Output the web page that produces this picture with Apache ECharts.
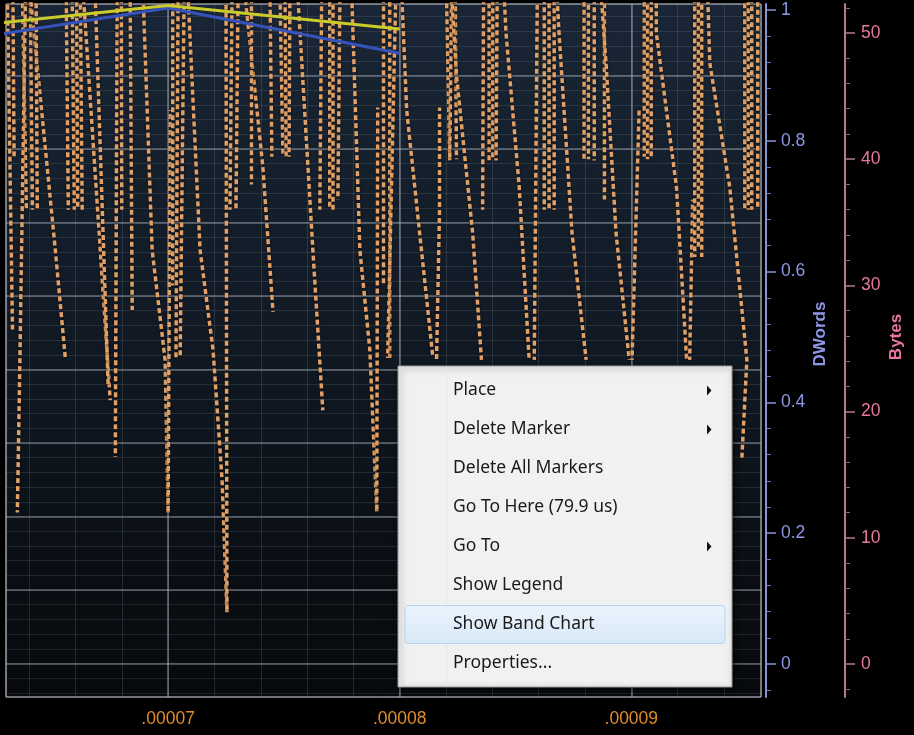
<!DOCTYPE html>
<html><head><meta charset="utf-8">
<script src="https://cdn.jsdelivr.net/npm/echarts@6/dist/echarts.min.js"></script>
<style>html,body{margin:0;padding:0;background:#000;}#c{width:914px;height:735px;}</style>
</head><body><div id="c"></div>
<script>
// ---- data (time in microseconds, bytes, dwords) ----
const timeLabelTicks = [70, 80, 90];
const dwordTicks = [0, 0.2, 0.4, 0.6, 0.8, 1];
const dwordMinorTicks = [-0.04, 0.04, 0.08, 0.12, 0.16, 0.24, 0.28, 0.32, 0.36, 0.44, 0.48, 0.52, 0.56, 0.64, 0.68, 0.72, 0.76, 0.84, 0.88, 0.92, 0.96];
const byteTicks = [0, 10, 20, 30, 40, 50];
const byteMinorTicks = [-2, 2, 4, 6, 8, 12, 14, 16, 18, 22, 24, 26, 28, 32, 34, 36, 38, 42, 44, 46, 48, 52];
const yellowDwords = [[60, 0.97], [70, 1.007], [80, 0.971]];
const blueDwords = [[60, 0.948], [70, 1.003], [80, 0.934]];
// each strand: sequence of [time, bytes] points of one dashed trace
const byteStrands = [
 [[63.71,53],[63.88,36.0]],
 [[64.05,53],[64.14,36.0]],
 [[63.84,53],[63.6,24],[63.49,12.0]],
 [[64.05,53],[65.13,32.8],[65.56,24.25]],
 [[63.06,53],[63.28,26.5]],
 [[63.30,53],[63.35,40.0]],
 [[64.30,53],[64.35,36.0]],
 [[65.60,53],[65.69,36.0]],
 [[65.86,53],[65.95,36.0]],
 [[66.05,53],[66.10,36.0]],
 [[66.21,53],[66.29,36.0]],
 [[66.34,53],[67.07,32.8],[67.50,20.9]],
 [[66.85,53],[67.41,22.1]],
 [[67.80,53],[67.72,16.4]],
 [[67.98,53],[68.00,36.0]],
 [[68.36,53],[68.45,28.05]],
 [[68.92,53],[69.31,32.8],[69.87,24.1],[70.00,12.0]],
 [[70.09,43.9],[70.00,12.0]],
 [[70.20,53],[70.20,30.0]],
 [[70.43,53],[70.34,24.25]],
 [[70.69,53],[70.52,24.25]],
 [[70.86,53],[71.38,32.8],[71.94,24.9],[72.33,14.6],[72.54,4.1]],
 [[72.50,53],[72.54,4.1]],
 [[72.76,53],[72.67,36.0]],
 [[73.02,53],[72.93,36.0]],
 [[73.32,53],[74.09,39.4],[74.53,27.9]],
 [[73.60,53],[73.60,38.0]],
 [[74.40,53],[74.48,40.2]],
 [[74.83,53],[74.96,40.2]],
 [[75.05,53],[75.10,40.2]],
 [[75.26,53],[75.22,40.2]],
 [[75.60,53],[76.25,32.8],[76.68,20.1]],
 [[76.63,53],[76.55,36.0]],
 [[76.98,53],[76.98,36.0]],
 [[77.12,53],[77.12,36.0]],
 [[77.42,53],[77.33,36.8]],
 [[77.93,53],[78.28,32.8],[78.71,24.9],[79.01,12.0]],
 [[79.05,44.1],[79.01,12.0]],
 [[79.30,53],[79.30,30.0]],
 [[79.57,53],[79.57,24.25]],
 [[79.83,53],[79.48,24.25]],
 [[80.09,53],[80.30,43.9],[80.86,34.15],[81.42,24.5]],
 [[82.02,53],[82.16,39.9]],
 [[82.24,53],[82.16,39.9]],
 [[82.40,53],[82.45,40.0]],
 [[81.72,44.1],[81.72,36.0],[81.59,24.1]],
 [[82.24,53],[82.46,46.5],[83.15,34.15],[83.53,24.1]],
 [[83.62,53],[83.58,36.0]],
 [[83.86,53],[83.86,39.9]],
 [[84.02,53],[84.02,40.0]],
 [[84.21,53],[84.16,39.9]],
 [[84.51,53],[84.59,50.0],[85.16,37.8],[85.59,24.1]],
 [[85.94,53],[85.81,24.1]],
 [[86.24,53],[86.24,36.0]],
 [[86.45,53],[86.45,36.0]],
 [[86.67,53],[86.67,36.0]],
 [[86.79,53],[86.88,50.0],[87.44,34.15],[88.05,24.1]],
 [[87.96,53],[87.96,39.9]],
 [[88.15,53],[88.15,40.0]],
 [[88.40,53],[88.40,39.9]],
 [[88.84,53],[88.84,36.8]],
 [[88.70,53],[88.92,47.3],[89.34,34.15],[89.91,24.1]],
 [[90.34,44.1],[90.03,24.1]],
 [[90.56,53],[90.56,40.2]],
 [[90.70,53],[90.70,40.0]],
 [[90.86,53],[90.86,40.2]],
 [[91.08,53],[91.08,50.0],[91.95,37.8],[92.39,24.1]],
 [[92.65,36.8],[92.52,24.1]],
 [[92.74,53],[92.74,32.25]],
 [[92.90,53],[92.90,33.0]],
 [[93.04,53],[93.04,32.25]],
 [[93.30,53],[93.39,47.6],[94.25,37.8],[94.99,24.1],[94.77,16.2]],
 [[94.90,53],[94.90,36.0]],
 [[95.05,53],[95.05,36.0]],
 [[95.20,53],[95.20,36.0]],
 [[95.46,53],[95.46,36.0]]
];
const menuItems = ['Place', 'Delete Marker', 'Delete All Markers', 'Go To Here (79.9 us)', 'Go To', 'Show Legend', 'Show Band Chart', 'Properties...'];
const menuSubmenu = [true, true, false, false, true, false, false, false];
const menuHighlighted = 6;

// ---- chart ----
const chart = echarts.init(document.getElementById('c'), null, {renderer: 'canvas'});
const X_MIN = 63, X_MAX = 95.6;
const hidden = {axisLine: {show: false}, axisTick: {show: false}, axisLabel: {show: false}};
const dashPhases = [0, 3, 5, 1.5, 6.5, 4];

const series = byteStrands.map((s, i) => ({
  type: 'line', xAxisIndex: 0, yAxisIndex: 4, data: s, symbol: 'none', silent: true,
  clip: true, z: 2, animation: false,
  lineStyle: {color: '#e0a066', width: 3.5, type: [5, 3], dashOffset: dashPhases[i % dashPhases.length],
    shadowColor: 'rgba(0,0,0,0.9)', shadowBlur: 2}
}));
series.push({type: 'line', xAxisIndex: 0, yAxisIndex: 2, data: yellowDwords, symbol: 'none', clip: true, z: 4,
  lineStyle: {color: '#c9cc2a', width: 3}});
series.push({type: 'line', xAxisIndex: 0, yAxisIndex: 2, data: blueDwords, symbol: 'none', clip: true, z: 3,
  lineStyle: {color: '#3552bd', width: 3}});

const graphic = [];
graphic.push({type: 'rect', shape: {x: 398, y: 366, width: 334, height: 321}, z: 100,
  style: {fill: '#f1f1f1', stroke: '#9a9a9a', lineWidth: 1, shadowBlur: 6, shadowColor: 'rgba(0,0,0,0.6)', shadowOffsetX: 2, shadowOffsetY: 2}});
graphic.push({type: 'line', shape: {x1: 446.5, y1: 369, x2: 446.5, y2: 684}, z: 101, style: {stroke: '#e6e6e6', lineWidth: 1}});
const itemY0 = 390.5, itemStep = 39;
graphic.push({type: 'rect', shape: {x: 405, y: itemY0 + menuHighlighted * itemStep - 19, width: 320, height: 38, r: 3}, z: 101,
  style: {fill: {type: 'linear', x: 0, y: 0, x2: 0, y2: 1, colorStops: [{offset: 0, color: '#eaf3fc'}, {offset: 1, color: '#d9e9f8'}]}, stroke: '#b5d3f1', lineWidth: 1}});
menuItems.forEach((t, i) => {
  const cy = itemY0 + i * itemStep;
  graphic.push({type: 'text', x: 453, y: cy, z: 102,
    style: {text: t, fill: '#1a1a1a', font: '17.5px "Noto Sans", sans-serif', textAlign: 'left', textVerticalAlign: 'middle'}});
  if (menuSubmenu[i]) {
    graphic.push({type: 'polygon', z: 102, shape: {points: [[707, cy - 5], [711.5, cy], [707, cy + 5]]}, style: {fill: '#111'}});
  }
});
graphic.push({type: 'text', x: 820, y: 334, rotation: Math.PI / 2, z: 50,
  style: {text: 'DWords', fill: '#8d97e6', font: 'bold 17px "Liberation Sans", sans-serif', textAlign: 'center', textVerticalAlign: 'middle'}});
graphic.push({type: 'text', x: 896, y: 337, rotation: Math.PI / 2, z: 50,
  style: {text: 'Bytes', fill: '#e8789a', font: 'bold 17px "Liberation Sans", sans-serif', textAlign: 'center', textVerticalAlign: 'middle'}});

const labelFont = {fontFamily: '"Liberation Sans", sans-serif', fontSize: 17.5};
const option = {
  backgroundColor: '#000',
  animation: false,
  grid: {left: 6, right: 153, top: 4, bottom: 38, show: true, borderColor: '#7b8088', borderWidth: 1,
    backgroundColor: {type: 'linear', x: 0, y: 0, x2: 0, y2: 1, colorStops: [
      {offset: 0, color: '#1a2636'}, {offset: 0.45, color: '#111a25'}, {offset: 1, color: '#07090c'}]}},
  xAxis: [
    Object.assign({type: 'value', min: X_MIN, max: X_MAX, splitNumber: 16,
      splitLine: {show: true, lineStyle: {color: 'rgba(150,160,172,0.2)', width: 1}}}, hidden),
    {type: 'value', min: X_MIN, max: X_MAX, splitNumber: 3, position: 'bottom',
      axisLine: {show: false}, axisTick: {show: false},
      splitLine: {show: true, lineStyle: {color: 'rgba(185,190,198,0.55)', width: 1.5}},
      axisLabel: Object.assign({color: '#e08d2c', margin: 13,
        formatter: v => timeLabelTicks.indexOf(Math.round(v * 1000) / 1000) >= 0 ? '.0000' + (v / 10) : ''}, labelFont)}
  ],
  yAxis: [
    Object.assign({type: 'value', min: -0.4558, max: 8.973, splitNumber: 9,
      splitLine: {show: true, lineStyle: {color: 'rgba(185,190,198,0.5)', width: 1.5}}}, hidden),
    Object.assign({type: 'value', min: -0.4558, max: 8.973, splitNumber: 47,
      splitLine: {show: true, lineStyle: {color: 'rgba(150,160,172,0.17)', width: 1}}}, hidden),
    {type: 'value', position: 'right', offset: 5, min: -0.05046, max: 1.00917, splitLine: {show: false},
      axisLine: {show: true, lineStyle: {color: '#8793d8', width: 2}},
      axisTick: {show: true, length: 10, customValues: dwordTicks, lineStyle: {color: '#8793d8', width: 1.5}},
      axisLabel: Object.assign({show: true, margin: 15, color: '#8d97e6', customValues: dwordTicks}, labelFont)},
    {type: 'value', position: 'right', offset: 5, min: -0.05046, max: 1.00917, splitLine: {show: false},
      axisLine: {show: false}, axisLabel: {show: false},
      axisTick: {show: true, length: 5, customValues: dwordMinorTicks, lineStyle: {color: '#6f79b8', width: 1}}},
    {type: 'value', position: 'right', offset: 84, min: -2.615, max: 52.3, splitLine: {show: false},
      axisLine: {show: true, lineStyle: {color: '#b47a8e', width: 2}},
      axisTick: {show: true, length: 10, customValues: byteTicks, lineStyle: {color: '#b47a8e', width: 1.5}},
      axisLabel: Object.assign({show: true, margin: 16, color: '#e8789a', customValues: byteTicks}, labelFont)},
    {type: 'value', position: 'right', offset: 84, min: -2.615, max: 52.3, splitLine: {show: false},
      axisLine: {show: false}, axisLabel: {show: false},
      axisTick: {show: true, length: 5, customValues: byteMinorTicks, lineStyle: {color: '#8e6272', width: 1}}}
  ],
  series: series,
  graphic: graphic
};
chart.setOption(option);
</script></body></html>
